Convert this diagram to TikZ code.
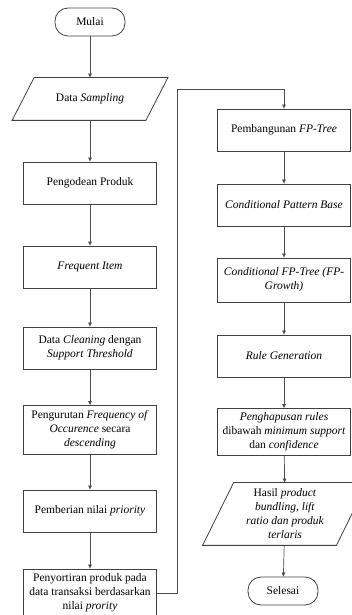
\documentclass[tikz,border=0pt]{standalone}
\usepackage{fontspec}
\setmainfont{Liberation Serif}
\usetikzlibrary{arrows.meta}

\tikzset{
  proses/.style={draw=black!75, line width=0.8pt, rectangle, align=center,
    minimum width=133pt, minimum height=42pt, inner sep=1pt,
    font=\fontsize{11.5}{14}\selectfont},
  data/.style={proses, draw=none},
  garis/.style={draw=black!75, line width=0.8pt},
  terminal/.style={proses, rounded corners=13pt, minimum width=70pt,
    minimum height=28pt},
  alur/.style={draw=black!70, line width=0.7pt,
    -{Triangle[length=4pt,width=3.5pt]}}
}

\begin{document}
\begin{tikzpicture}[x=1pt,y=1pt]
%\draw[help lines,step=50] (0,0) grid (352,615);
\useasboundingbox (0,0) rectangle (352,615);
% kolom kiri
\node[terminal] (mulai) at (90,593) {Mulai};
\node[data] (sampling) at (90,516) {Data \textit{Sampling}};
\node[proses] (kode) at (90,432) {Pengodean Produk};
\node[proses] (freq) at (90,348) {\textit{Frequent Item}};
\node[proses] (clean) at (90,267) {Data \textit{Cleaning} dengan\\\textit{Support Threshold}};
\node[proses, minimum height=49pt] (urut) at (90,185) {Pengurutan \textit{Frequency of}\\\textit{Occurence} secara\\\textit{descending}};
\node[proses] (prio) at (90,104) {Pemberian nilai \textit{priority}};
\node[proses, minimum height=48pt] (sortir) at (90,22) {Penyortiran produk pada\\data transaksi berdasarkan\\nilai \textit{prority}};
% kolom kanan
\node[proses] (fptree) at (284,485) {Pembangunan \textit{FP-Tree}};
\node[proses] (cpb) at (284,410) {\textit{Conditional Pattern Base}};
\node[proses, minimum height=44pt] (cfpt) at (284,335) {\textit{Conditional FP-Tree (FP-}\\\textit{Growth)}};
\node[proses] (rule) at (284,259) {\textit{Rule Generation}};
\node[proses, minimum height=47pt] (hapus) at (284,183) {\textit{Penghapusan rules}\\dibawah \textit{minimum support}\\dan \textit{confidence}};
\node[data, minimum height=62pt] (hasil) at (285,101) {Hasil \textit{product}\\\textit{bundling, lift}\\\textit{ratio dan produk}\\\textit{terlaris}};
\node[terminal] (selesai) at (283,24) {Selesai};
\coordinate (belok) at (177,526);

% jajar genjang
\draw[garis] ([xshift=11pt]sampling.north west) -- ([xshift=11pt]sampling.north east)
  -- ([xshift=-11pt]sampling.south east) -- ([xshift=-11pt]sampling.south west) -- cycle;
\draw[garis] ([xshift=15.5pt]hasil.north west) -- ([xshift=15.5pt]hasil.north east)
  -- ([xshift=-15.5pt]hasil.south east) -- ([xshift=-15.5pt]hasil.south west) -- cycle;

\draw[alur] (mulai) -- (sampling);
\draw[alur] (sampling) -- (kode);
\draw[alur] (kode) -- (freq);
\draw[alur] (freq) -- (clean);
\draw[alur] (clean) -- (urut);
\draw[alur] (urut) -- (prio);
\draw[alur] (prio) -- (sortir);
\draw[alur] (sortir.east) -| (belok) -| (fptree.north);
\draw[alur] (fptree) -- (cpb);
\draw[alur] (cpb) -- (cfpt);
\draw[alur] (cfpt) -- (rule);
\draw[alur] (rule) -- (hapus);
\draw[alur] (hapus) -- (hasil);
\draw[alur] (hasil) -- (selesai);
\end{tikzpicture}
\end{document}
